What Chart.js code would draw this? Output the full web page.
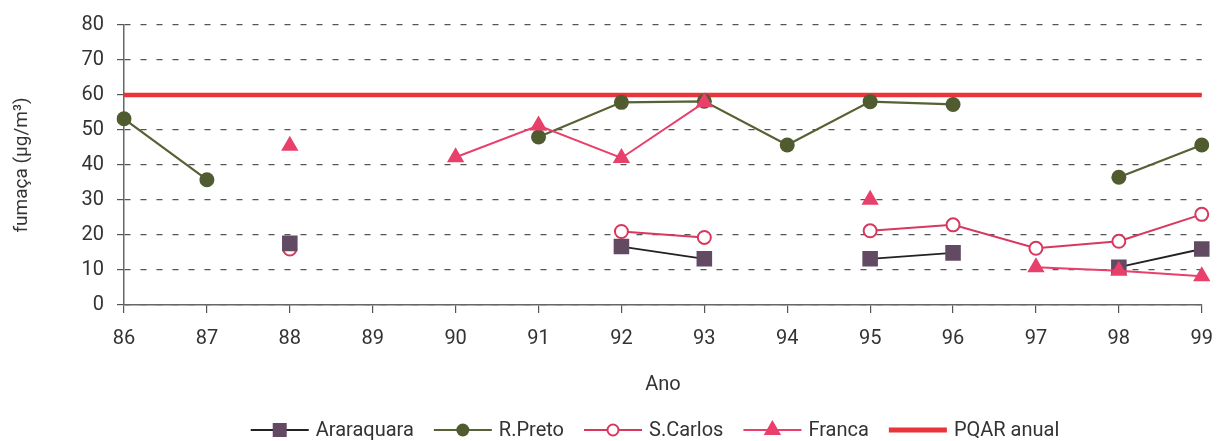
<!DOCTYPE html>
<html>
<head>
<meta charset="utf-8">
<script src="https://cdn.jsdelivr.net/npm/chart.js@4/dist/chart.umd.min.js"></script>
<style>
  html, body { margin: 0; padding: 0; background: #fff; }
  #wrap { width: 1227px; height: 441px; }
</style>
</head>
<body>
<div id="wrap"><canvas id="myChart" width="1227" height="441"></canvas></div>
<script>
// Data
const years = ['86', '87', '88', '89', '90', '91', '92', '93', '94', '95', '96', '97', '98', '99'];
const araraquara = [null, null, 17.6, null, null, null, 16.7, 13.2, null, 13.2, 14.9, null, 10.8, 16];
const rPreto = [53.2, 35.8, null, null, null, 48, 57.9, 58.2, 45.7, 58.1, 57.3, null, 36.5, 45.7];
const sCarlos = [null, null, 16, null, null, null, 21, 19.3, null, 21.2, 22.9, 16.2, 18.2, 25.9];
const franca = [null, null, 45.5, null, 42.2, 51.3, 42, 57.9, null, 30.1, null, 10.8, 9.8, 8.2];
const pqar = [60, 60, 60, 60, 60, 60, 60, 60, 60, 60, 60, 60, 60, 60];
const yTicks = [0, 10, 20, 30, 40, 50, 60, 70, 80];

const FONT = 'Roboto, "DejaVu Sans", sans-serif';
const TEXT = '#333';

// Legend drawn under the plot: line with the marker in its middle, then the label
function drawMarker(ctx, style, x, y, r, fill, stroke) {
    ctx.save();
    ctx.fillStyle = fill;
    ctx.strokeStyle = stroke;
    ctx.lineWidth = 2;
    ctx.beginPath();
    if (style === 'rect') {
        ctx.rect(x - r, y - r, 2 * r, 2 * r);
        ctx.fill();
    } else if (style === 'circle') {
        ctx.arc(x, y, r, 0, Math.PI * 2);
        ctx.fill();
        if (fill === '#fff') ctx.stroke();
    } else if (style === 'triangle') {
        ctx.moveTo(x, y - r);
        ctx.lineTo(x + r * 0.866, y + r / 2);
        ctx.lineTo(x - r * 0.866, y + r / 2);
        ctx.closePath();
        ctx.fill();
    }
    ctx.restore();
}

const legendItems = [
    { label: 'Araraquara', line: '#222', width: 2, marker: 'rect', r: 7, fill: '#634a63', stroke: '#634a63' },
    { label: 'R.Preto', line: '#566233', width: 2, marker: 'circle', r: 6.5, fill: '#505c30', stroke: '#505c30' },
    { label: 'S.Carlos', line: '#d8385e', width: 2, marker: 'circle', r: 5.5, fill: '#fff', stroke: '#d8385e' },
    { label: 'Franca', line: '#e8406a', width: 2, marker: 'triangle', r: 10, fill: '#e8406a', stroke: '#e8406a' },
    { label: 'PQAR anual', line: '#e8343a', width: 5, marker: null }
];

const bottomLegend = {
    id: 'bottomLegend',
    afterDraw(chart) {
        const ctx = chart.ctx;
        const lineLen = 58, gapText = 7, gapItem = 20, y = 430;
        ctx.save();
        ctx.font = '20px ' + FONT;
        ctx.textBaseline = 'middle';
        let total = 0;
        legendItems.forEach((it, i) => {
            it.tw = ctx.measureText(it.label).width;
            total += lineLen + gapText + it.tw + (i < legendItems.length - 1 ? gapItem : 0);
        });
        let x = 655 - total / 2;
        legendItems.forEach(it => {
            ctx.strokeStyle = it.line;
            ctx.lineWidth = it.width;
            ctx.beginPath();
            ctx.moveTo(x, y);
            ctx.lineTo(x + lineLen, y);
            ctx.stroke();
            if (it.marker) drawMarker(ctx, it.marker, x + lineLen / 2, y, it.r, it.fill, it.stroke);
            ctx.fillStyle = TEXT;
            ctx.fillText(it.label, x + lineLen + gapText, y + 1);
            x += lineLen + gapText + it.tw + gapItem;
        });
        ctx.restore();
    }
};

const ctx = document.getElementById('myChart').getContext('2d');
const myChart = new Chart(ctx, {
    type: 'line',
    data: {
        labels: years,
        datasets: [
            {
                label: 'Franca',
                data: franca,
                order: -1,
                borderColor: '#e8406a',
                backgroundColor: '#e8406a',
                borderWidth: 2,
                pointStyle: 'triangle',
                pointRadius: 10,
                pointBorderWidth: 0
            },
            {
                label: 'Araraquara',
                data: araraquara,
                borderColor: '#222',
                backgroundColor: '#634a63',
                borderWidth: 1.8,
                pointStyle: 'rect',
                pointRadius: 11,
                pointBorderWidth: 0
            },
            {
                label: 'R.Preto',
                data: rPreto,
                borderColor: '#566233',
                backgroundColor: '#505c30',
                borderWidth: 2.2,
                pointStyle: 'circle',
                pointRadius: 7.5,
                pointBorderWidth: 0
            },
            {
                label: 'S.Carlos',
                data: sCarlos,
                borderColor: '#d8385e',
                backgroundColor: '#fff',
                pointBackgroundColor: '#fff',
                pointBorderColor: '#d8385e',
                borderWidth: 2,
                pointStyle: 'circle',
                pointRadius: 6.5,
                pointBorderWidth: 2
            },
            {
                label: 'PQAR anual',
                data: pqar,
                borderColor: '#e8343a',
                borderWidth: 4.5,
                pointRadius: 0
            }
        ]
    },
    options: {
        responsive: false,
        animation: false,
        spanGaps: false,
        layout: { padding: { left: 0, right: 14, top: 22, bottom: 40 } },
        plugins: {
            legend: { display: false },
            tooltip: { enabled: false }
        },
        scales: {
            x: {
                offset: false,
                afterFit: scale => { scale.height = 96; },
                border: { color: '#666', width: 1.5 },
                grid: { drawOnChartArea: false, drawTicks: true, tickLength: 8, color: '#555', lineWidth: 1.2 },
                ticks: { color: TEXT, padding: 14, font: { family: FONT, size: 20 }, maxRotation: 0 },
                title: { display: true, text: 'Ano', color: TEXT, font: { family: FONT, size: 20 }, padding: { top: 0, bottom: 4 } }
            },
            y: {
                min: yTicks[0],
                max: yTicks[yTicks.length - 1],
                afterFit: scale => { scale.width = 124; },
                afterBuildTicks: scale => { scale.ticks = yTicks.map(v => ({ value: v })); },
                border: { color: '#666', width: 1.5, dash: [6, 10] },
                grid: {
                    color: '#555',
                    lineWidth: 1.2,
                    tickLength: 7,
                    tickColor: '#555',
                    tickBorderDash: []
                },
                ticks: { color: TEXT, padding: 13, font: { family: FONT, size: 20 } },
                title: { display: true, text: 'fumaça (µg/m³)', color: TEXT, font: { family: FONT, size: 19 }, padding: { top: 11, bottom: 0 } }
            }
        }
    },
    plugins: [bottomLegend]
});
</script>
</body>
</html>
